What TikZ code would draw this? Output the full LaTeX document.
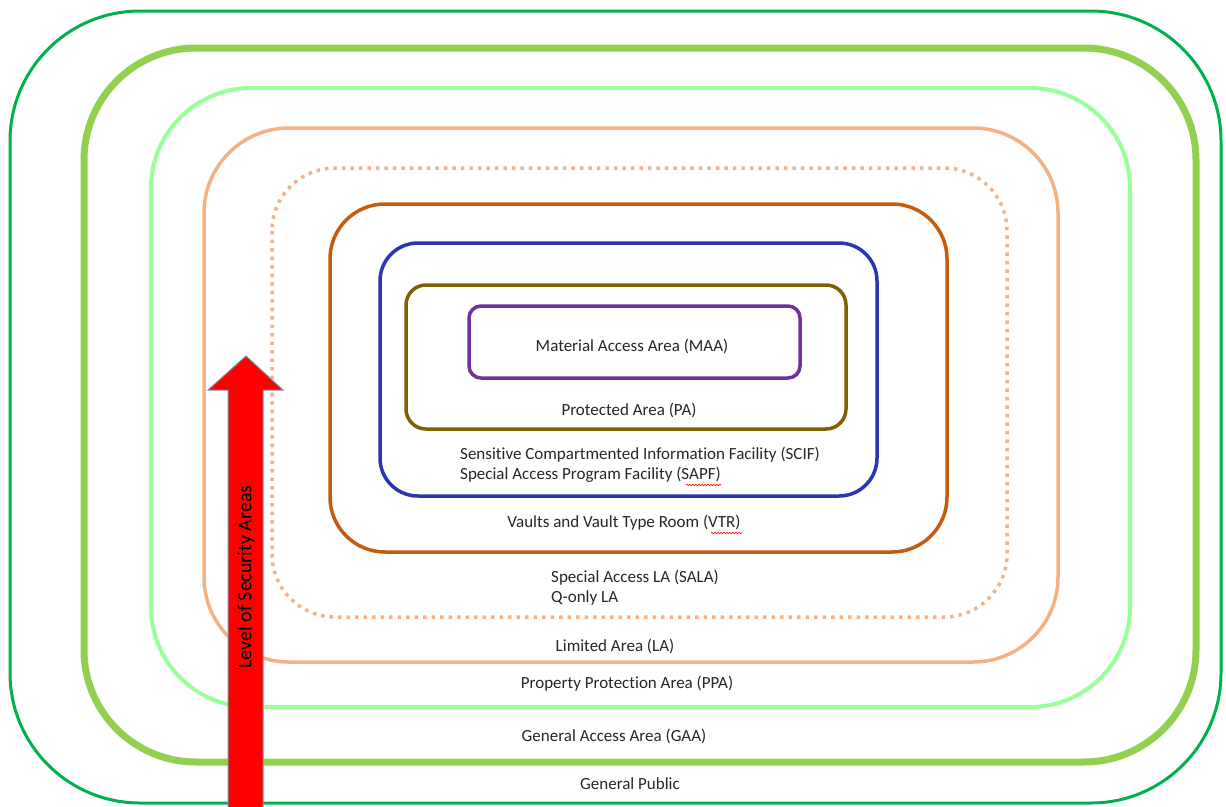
\documentclass[tikz,border=0pt]{standalone}
\usepackage{fontspec}
\setmainfont{Carlito}[Ligatures={NoCommon}]
\usetikzlibrary{decorations.pathmorphing}
\definecolor{gOuter}{HTML}{00B050}
\definecolor{gThick}{HTML}{92D050}
\definecolor{gLight}{HTML}{99FF99}
\definecolor{peach}{HTML}{F4B183}
\definecolor{rust}{HTML}{C55A11}
\definecolor{navy}{HTML}{2B34B3}
\definecolor{olive}{HTML}{7F6000}
\definecolor{purp}{HTML}{7030A0}
\definecolor{txt}{HTML}{262626}
\definecolor{arrowedge}{HTML}{7F8FA9}
\tikzset{
  zone/.style={line width=#1},
  lbl/.style={font=\fontsize{17}{20}\selectfont, text=txt, inner sep=0pt},
  squig/.style={red, line width=0.6pt, decorate, decoration={snake, amplitude=0.8pt, segment length=3pt}}
}
\begin{document}
\begin{tikzpicture}[x=1pt,y=-1pt]
\useasboundingbox (0,0) rectangle (1226,806);
% zones
\draw[gOuter, zone=3pt, rounded corners=130pt] (10,11) rectangle (1221,803);
\draw[gThick, zone=7pt, rounded corners=112pt] (84,48) rectangle (1196,762);
\draw[gLight, zone=4pt, rounded corners=100pt] (151,88) rectangle (1130,707);
\draw[peach, zone=3.5pt, rounded corners=85pt] (204,128) rectangle (1058,662);
\draw[peach, zone=3.5pt, dash pattern=on 3.5pt off 5pt, rounded corners=63pt] (272,168) rectangle (1007,617);
\draw[rust, zone=3.5pt, rounded corners=55pt] (330,204) rectangle (947,552);
\draw[navy, zone=3.5pt, rounded corners=38pt] (380,243) rectangle (877,496);
\draw[olive, zone=3.5pt, rounded corners=20pt] (406,285) rectangle (846,429);
\draw[purp, zone=3.5pt, rounded corners=12pt] (469,306) rectangle (800,378);
% labels
\node[lbl] (maa) at (632,346) {Material Access Area (MAA)};
\node[lbl] (pa) at (629,410) {Protected Area (PA)};
\node[lbl, anchor=west] (scif) at (460,455) {Sensitive Compartmented Information Facility (SCIF)};
\node[lbl, anchor=west] (sapf) at (460,475) {Special Access Program Facility (SAPF)};
\node[lbl] (vtr) at (624,523) {Vaults and Vault Type Room (VTR)};
\node[lbl, anchor=west] (sala) at (551,578) {Special Access LA (SALA)};
\node[lbl, anchor=west] (qla) at (551,598) {Q-only LA};
\node[lbl] (la) at (615,646) {Limited Area (LA)};
\node[lbl] (ppa) at (627,684) {Property Protection Area (PPA)};
\node[lbl] (gaa) at (614,736) {General Access Area (GAA)};
\node[lbl] (gp) at (630,784) {General Public};
% spell-check squiggles
\coordinate (sq1a) at (686,485); \coordinate (sq1b) at (721,485);
\coordinate (sq2a) at (711,533); \coordinate (sq2b) at (742,533);
\draw[squig] (sq1a) -- (sq1b);
\draw[squig] (sq2a) -- (sq2b);
% arrow
\draw[fill=red, draw=arrowedge, line width=1pt, line join=miter]
  (228,808) -- (228,390) -- (208,390) -- (246,356) -- (283,390) -- (263,390) -- (263,808) -- cycle;
\node[lbl, font=\fontsize{20}{24}\selectfont, rotate=90, text=black] (lvl) at (246,577) {Level of Security Areas};
\end{tikzpicture}
\end{document}
